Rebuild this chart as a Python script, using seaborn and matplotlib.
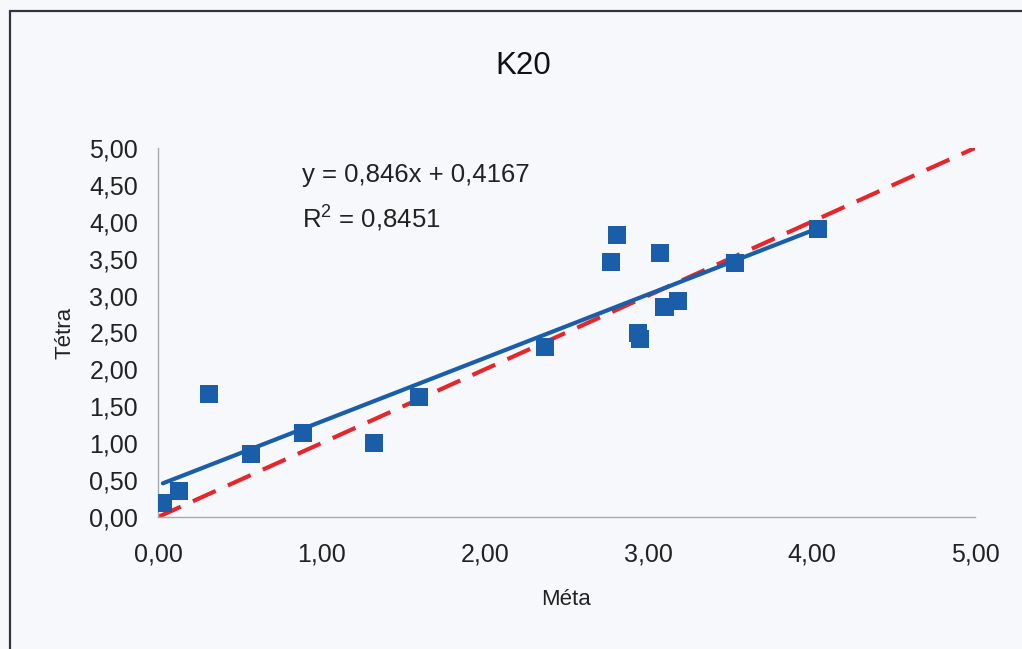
import numpy as np
import pandas as pd
import matplotlib
matplotlib.use('Agg')
import matplotlib.pyplot as plt
from matplotlib.ticker import FuncFormatter, MultipleLocator
from matplotlib.patches import Rectangle
import seaborn as sns

# values
meta = [0.03, 0.13, 0.31, 0.57, 0.89, 1.32, 1.60, 2.37, 2.77, 2.81,
        3.07, 2.94, 2.95, 3.10, 3.18, 3.53, 4.04]
tetra = [0.19, 0.35, 1.67, 0.85, 1.14, 1.00, 1.63, 2.30, 3.46, 3.82,
         3.58, 2.49, 2.41, 2.85, 2.93, 3.44, 3.90]
ref_line = [0, 5]

TITLE = 'K20'
EQ_TEXT = 'y = 0,846x + 0,4167'
R2_TEXT = 'R$^2$ = 0,8451'

df = pd.DataFrame({'Méta': meta, 'Tétra': tetra})

sns.set_style('white')
plt.rcParams['font.family'] = ['Liberation Sans', 'DejaVu Sans']
plt.rcParams['mathtext.fontset'] = 'custom'
plt.rcParams['mathtext.rm'] = 'Liberation Sans'

BG = '#f7f8fb'
BLUE = '#1a5da8'
RED = '#e5262b'
TXT = '#222222'

fig = plt.figure(figsize=(10.22, 6.49), dpi=100, facecolor=BG)
ax = fig.add_axes([0.1546, 0.2034, 0.7994, 0.5686])
ax.set_facecolor(BG)

# chart frame (cut by the scan on right and bottom)
fig.patches.append(Rectangle((10 / 1022, -0.1), 1.2, 0.1 + (649 - 11) / 649,
                             transform=fig.transFigure, fill=False,
                             edgecolor='#333344', linewidth=1.6))

# y = x reference
sns.lineplot(x=ref_line, y=ref_line, color=RED, linewidth=3,
             dashes=False, ax=ax, zorder=2)
ax.lines[-1].set_dashes([6, 3.2])

# linear fit
sns.regplot(data=df, x='Méta', y='Tétra', ci=None, scatter=False, truncate=True,
            line_kws={'color': BLUE, 'linewidth': 3, 'zorder': 3}, ax=ax)

sns.scatterplot(data=df, x='Méta', y='Tétra', marker='s', s=170,
                color=BLUE, edgecolor='none', ax=ax, zorder=4)

ax.set_xlim(0, 5)
ax.set_ylim(0, 5)
ax.xaxis.set_major_locator(MultipleLocator(1))
ax.yaxis.set_major_locator(MultipleLocator(0.5))
fmt = FuncFormatter(lambda v, p: f'{v:.2f}'.replace('.', ','))
ax.xaxis.set_major_formatter(fmt)
ax.yaxis.set_major_formatter(fmt)
ax.tick_params(axis='both', which='major', direction='out', length=4.3,
               width=1, color='#999999', labelsize=18, labelcolor=TXT)
ax.tick_params(axis='x', pad=14)
ax.tick_params(axis='y', pad=10)

for side in ['top', 'right']:
    ax.spines[side].set_visible(False)
for side in ['left', 'bottom']:
    ax.spines[side].set_color('#aaaaaa')
    ax.spines[side].set_linewidth(1)

ax.set_xlabel('Méta', fontsize=16, color=TXT, labelpad=16)
ax.set_ylabel('Tétra', fontsize=16, color=TXT, labelpad=10)

fig.text(0.512, 0.899, TITLE, ha='center', va='center', fontsize=22.5, color='#111111')
ax.text(0.88, 4.54, EQ_TEXT, ha='left', va='baseline', fontsize=18.5, color=TXT)
ax.text(0.88, 3.93, R2_TEXT, ha='left', va='baseline', fontsize=18.5, color=TXT)

fig.savefig('out.png', dpi=100, facecolor=BG)
